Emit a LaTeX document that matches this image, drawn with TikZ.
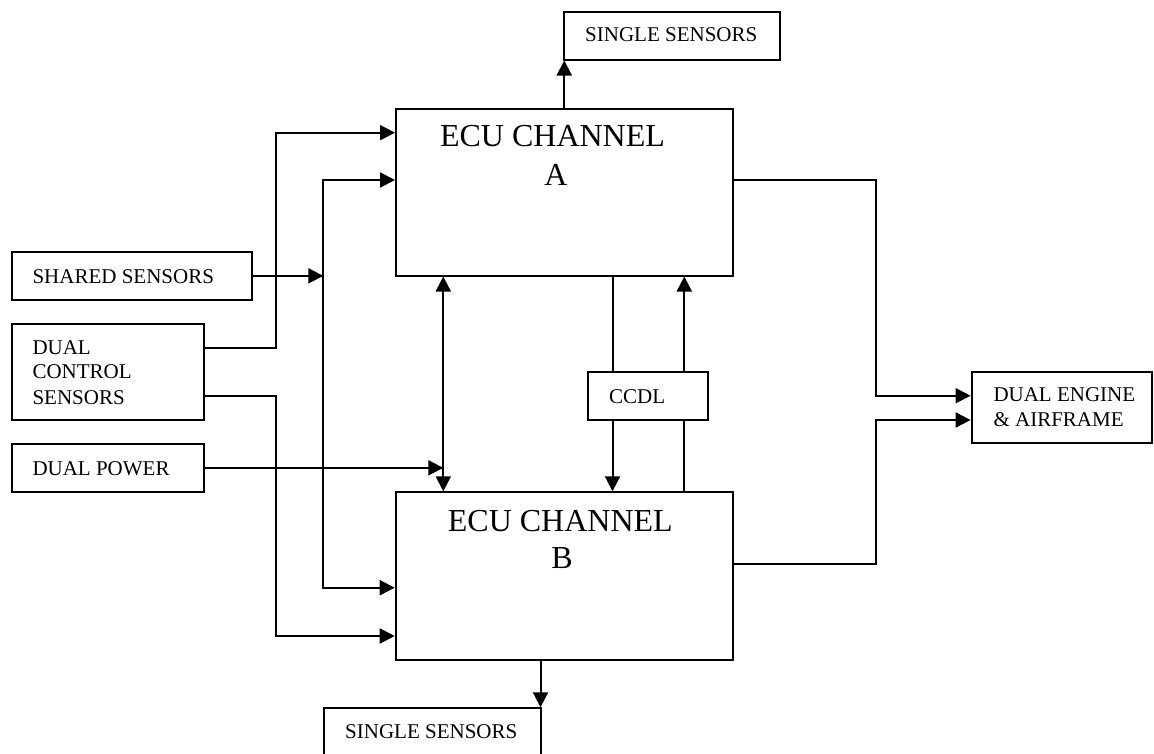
\documentclass[tikz,border=0pt]{standalone}
\usepackage{fontspec}
\setmainfont{Liberation Serif}
\usetikzlibrary{arrows.meta}
\begin{document}
\begin{tikzpicture}[x=1pt,y=-1pt,
  box/.style={draw, line width=2pt, inner sep=0pt},
  lbl/.style={anchor=base west, inner sep=0pt, font=\fontsize{21}{25}\selectfont},
  big/.style={anchor=base, inner sep=0pt, font=\fontsize{32}{38}\selectfont},
  conn/.style={line width=2pt},
  arr/.style={conn, -{Triangle[length=15pt,width=15pt]}},
  darr/.style={conn, {Triangle[length=15pt,width=15pt]}-{Triangle[length=15pt,width=15pt]}}]
\useasboundingbox (0,0) rectangle (1154,753);
\clip (0,0) rectangle (1154,753);
\fill[white] (0,0) rectangle (1154,753);

% boxes
\node[box, minimum width=216pt, minimum height=47.5pt] (ssTop) at (671.5,35.75) {};
\node[box, minimum width=336.5pt, minimum height=167pt] (ecuA) at (564.25,192) {};
\node[box, minimum width=240.6pt, minimum height=48.3pt] (shared) at (132,275.85) {};
\node[box, minimum width=192.6pt, minimum height=96pt] (dualctl) at (108,372) {};
\node[box, minimum width=192.6pt, minimum height=47.7pt] (dualpow) at (108,467.85) {};
\node[box, minimum width=120pt, minimum height=47.7pt] (ccdl) at (648.3,396.15) {};
\node[box, minimum width=337.3pt, minimum height=167.7pt] (ecuB) at (564.35,576.15) {};
\node[box, minimum width=180.8pt, minimum height=71pt] (engine) at (1062,407.8) {};
\node[box, minimum width=217pt, minimum height=48pt] (ssBot) at (432,732.3) {};

% texts
\node[lbl] (tSsTop) at (585,41.7) {SINGLE SENSORS};
\node[big] (tA1) at (552.5,146.7) {ECU CHANNEL};
\node[big] (tA2) at (556,185) {A};
\node[lbl] (tShared) at (32.3,283.3) {SHARED SENSORS};
\node[lbl] (tDc1) at (32.3,354) {DUAL};
\node[lbl] (tDc2) at (32.3,378.7) {CONTROL};
\node[lbl] (tDc3) at (32.3,404) {SENSORS};
\node[lbl] (tPow) at (32.3,475.3) {DUAL POWER};
\node[lbl] (tCcdl) at (609,403.3) {CCDL};
\node[lbl] (tEng1) at (993.3,401.7) {DUAL ENGINE};
\node[lbl] (tEng2) at (993.3,426.7) {\& AIRFRAME};
\node[big] (tB1) at (560.3,531.7) {ECU CHANNEL};
\node[big] (tB2) at (562,568) {B};
\node[lbl] (tSsBot) at (345,738.3) {SINGLE SENSORS};

% routing coordinates
\coordinate (yA1) at (0,132.7);
\coordinate (yA2) at (0,180);
\coordinate (yDc1) at (0,347.7);
\coordinate (yDc2) at (0,395.7);
\coordinate (yB1) at (0,587.7);
\coordinate (yB2) at (0,636);
\coordinate (yEng1) at (0,395.7);
\coordinate (yEng2) at (0,420);
\coordinate (yBout) at (0,563.5);
\coordinate (xL) at (276,0);
\coordinate (xR) at (323.3,0);
\coordinate (xBi) at (443.3,0);
\coordinate (xC1) at (612.5,0);
\coordinate (xC2) at (684.3,0);
\coordinate (xE) at (876,0);
\coordinate (xBd) at (540.5,0);

% connectors
\draw[arr] (ecuA.north) -- (ecuA.north |- ssTop.south);
\draw[arr] (dualctl.east |- yDc1) -- (xL |- yDc1) -- (xL |- yA1) -- (ecuA.west |- yA1);
\draw[arr] (shared.east) -- (xR |- shared.east);
\draw[darr] (ecuA.west |- yA2) -- (xR |- yA2) -- (xR |- yB1) -- (ecuB.west |- yB1);
\draw[arr] (dualctl.east |- yDc2) -- (xL |- yDc2) -- (xL |- yB2) -- (ecuB.west |- yB2);
\draw[arr] (dualpow.east) -- (xBi |- dualpow.east);
\draw[darr] (xBi |- ecuA.south) -- (xBi |- ecuB.north);
\draw[conn] (xC1 |- ecuA.south) -- (xC1 |- ccdl.north);
\draw[arr] (xC1 |- ccdl.south) -- (xC1 |- ecuB.north);
\draw[conn] (xC2 |- ecuB.north) -- (xC2 |- ccdl.south);
\draw[arr] (xC2 |- ccdl.north) -- (xC2 |- ecuA.south);
\draw[arr] (ecuA.east |- yA2) -- (xE |- yA2) -- (xE |- yEng1) -- (engine.west |- yEng1);
\draw[arr] (ecuB.east |- yBout) -- (xE |- yBout) -- (xE |- yEng2) -- (engine.west |- yEng2);
\draw[arr] (xBd |- ecuB.south) -- (xBd |- ssBot.north);
\end{tikzpicture}
\end{document}
